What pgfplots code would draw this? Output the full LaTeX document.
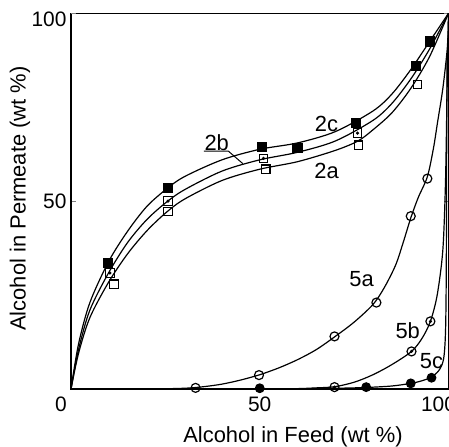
\documentclass[border=0pt]{standalone}
\usepackage{fontspec}
\setmainfont{Liberation Sans}
\usepackage{pgfplots}
\pgfplotsset{compat=1.18}
\begin{document}
\begin{tikzpicture}[font=\fontsize{22}{26}\selectfont]
\begin{axis}[
  scale only axis, width=377.5bp, height=375.7bp,
  xmin=0, xmax=100, ymin=0, ymax=100,
  axis line style={line width=1.1pt},
  xtick={50}, ytick={50},
  extra x ticks={0,100}, extra x tick labels={0,100},
  extra x tick style={xticklabel style={xshift=-10bp}},
  extra y ticks={100}, extra y tick labels={100},
  extra y tick style={yticklabel style={yshift=-6.5bp}},
  xtick style={draw=none},
  ytick style={line width=1pt},
  tick align=inside, major tick length=5bp,
  xticklabel style={yshift=-4bp, font=\fontsize{21}{25}\selectfont},
  yticklabel style={xshift=-1bp, font=\fontsize{21}{25}\selectfont},
  /pgf/number format/assume math mode=true,
  xlabel={Alcohol in Feed (wt \%)},
  ylabel={Alcohol in Permeate (wt \%)},
  xlabel style={at={(axis description cs:0.588,-0.128)}, anchor=center},
  ylabel style={at={(axis description cs:-0.135,0.507)}, anchor=center},
  every axis plot/.append style={line width=1.2pt, black},
  clip=false,
]
% ---- curves ----
\addplot[smooth, tension=0.5] coordinates {(0,0) (2,12) (5,23) (10,34) (15,42) (20,48.5) (25,53) (30,56.5) (40,61) (50,63.8) (60,65.5) (70,68.5) (80,74) (85,78.5) (90,85) (95,92.5) (100,100)};
\addplot[smooth, tension=0.5] coordinates {(0,0) (2,10.5) (5,21) (10,31) (15,39) (20,45) (25,49.5) (30,53) (40,58) (50,61) (60,63) (70,66) (80,71.5) (85,76) (90,82.5) (95,90.5) (100,100)};
\addplot[smooth, tension=0.5] coordinates {(0,0) (2,9.5) (5,19) (10,28.5) (15,36) (20,42) (25,46.8) (30,50.5) (40,55.5) (50,58.5) (60,60.5) (70,63.5) (76,66) (80,69) (85,73.5) (90,80) (95,88.5) (100,100)};
\addplot[smooth, tension=0.5] coordinates {(0,0) (20,0) (30,0.2) (35,0.6) (40,1.3) (45,2.4) (50,3.8) (55,5.6) (60,7.8) (65,10.5) (70,14) (75,17.8) (80,22.5) (83,27) (86,33) (88,39) (90,45.5) (92,51) (94.4,56.5) (96,64) (97.1,71) (98.5,80) (99.7,91) (100,100)};
\addplot[smooth, tension=0.5] coordinates {(0,0) (50,0) (60,0.1) (65,0.3) (69.8,0.6) (75,1.8) (80,3.8) (85,6.5) (90.2,10) (93,13.5) (95.2,18) (97,25) (98.5,37) (99.2,55) (99.6,78) (100,100)};
\addplot[smooth, tension=0.5] coordinates {(0,0) (50,0) (70,0.2) (78,0.4) (85,0.8) (90,1.5) (93,2.2) (95.5,3.2) (97.5,5) (98.7,8) (99.2,15) (99.4,30) (99.5,60) (99.6,88)};
% ---- markers ----
\addplot[only marks, mark=square*, mark size=4.5bp] coordinates {(9.8,33.5) (25.7,53.5) (50.5,64.4) (60,64.2) (75.6,70.7) (91.3,86) (95.2,92.5)};
\addplot[only marks, mark=square, mark size=4.2bp, mark options={fill=white, line width=1.1pt}] coordinates {(10.3,30.9) (25.7,50) (51,61.4) (75.9,68.1)};
\addplot[only marks, mark=*, mark size=0.9bp] coordinates {(10.3,30.9) (25.7,50) (51,61.4) (75.9,68.1)};
\addplot[only marks, mark=square, mark size=4.2bp, mark options={fill=white, line width=1.1pt}] coordinates {(11.4,27.9) (25.7,47.3) (51.6,58.5) (76.2,64.9) (91.8,81.1)};
\addplot[only marks, mark=o, mark size=4.5bp, mark options={fill=white, line width=1.2pt}] coordinates {(33,0.3) (49.8,3.7) (69.8,14) (80.9,23) (90,46) (94.4,56)};
\addplot[only marks, mark=o, mark size=4.5bp, mark options={fill=white, line width=1.2pt}] coordinates {(69.8,0.5) (90.2,10) (95.2,18)};
\addplot[only marks, mark=*, mark size=0.9bp] coordinates {(69.8,0.5) (90.2,10) (95.2,18)};
\addplot[only marks, mark=*, mark size=4.3bp] coordinates {(50,0.2) (78.2,0.5) (90,1.5) (95.5,3)};
% ---- labels ----
\node at (axis cs:67.7,70.5) {2c};
\node at (axis cs:38.6,65.6) {2b};
\node at (axis cs:67.7,58) {2a};
\node at (axis cs:77,29.3) {5a};
\node at (axis cs:89.2,15.4) {5b};
\node at (axis cs:95.5,7.4) {5c};
\draw[line width=1pt] (axis cs:35.2,63.3) -- (axis cs:41.7,63.3) -- (axis cs:45.5,60);
\end{axis}
\pgfresetboundingbox
\path ([shift={(-71bp,-58bp)}]current axis.south west) rectangle ([shift={(0.5bp,13.3bp)}]current axis.north east);
\end{tikzpicture}
\end{document}
